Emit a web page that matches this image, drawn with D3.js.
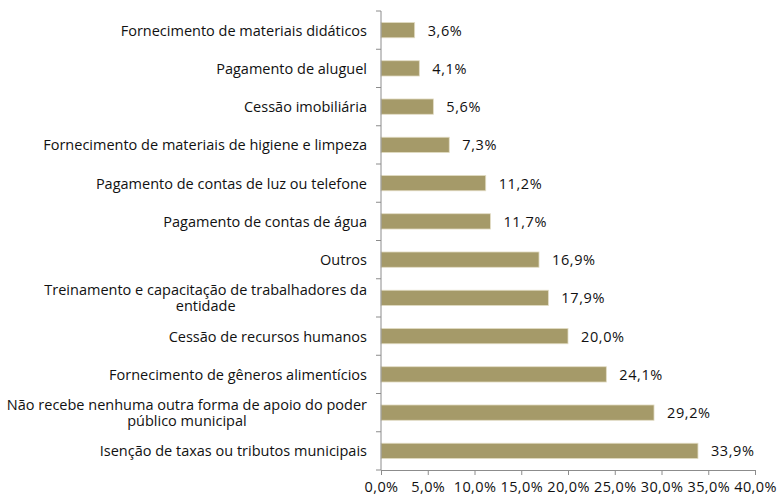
<!DOCTYPE html>
<html>
<head>
<meta charset="utf-8">
<script src="https://cdn.jsdelivr.net/npm/d3@7"></script>
<style>
  html, body { margin: 0; padding: 0; background: #fff; }
  svg text { font-family: "Open Sans", "Noto Sans", sans-serif; fill: #111; }
</style>
</head>
<body>
<svg id="chart" width="778" height="495"></svg>
<script>
// Forms of municipal support, share of entities (%)
const categories = [
  "Fornecimento de materiais didáticos",
  "Pagamento de aluguel",
  "Cessão imobiliária",
  "Fornecimento de materiais de higiene e limpeza",
  "Pagamento de contas de luz ou telefone",
  "Pagamento de contas de água",
  "Outros",
  "Treinamento e capacitação de trabalhadores da|entidade",
  "Cessão de recursos humanos",
  "Fornecimento de gêneros alimentícios",
  "Não recebe nenhuma outra forma de apoio do poder|público municipal",
  "Isenção de taxas ou tributos municipais"
];
const values = [3.6, 4.1, 5.6, 7.3, 11.2, 11.7, 16.9, 17.9, 20.0, 24.1, 29.2, 33.9];
const tickValues = [0, 5, 10, 15, 20, 25, 30, 35, 40];

const fmt = v => v.toFixed(1).replace(".", ",") + "%";

const svg = d3.select("#chart");
const plotLeft = 381, plotRight = 755, plotTop = 11, plotBottom = 470;
const fontSize = 14.5;

const x = d3.scaleLinear().domain([0, 40]).range([plotLeft, plotRight]);
const y = d3.scaleBand().domain(categories).range([plotTop, plotBottom]).paddingInner(0.6).paddingOuter(0.3);
const yGrid = d3.scaleBand().domain(categories).range([plotTop, plotBottom]);

const axisColor = "#8c8c8c";

// Bars
svg.append("g").selectAll("rect")
  .data(values)
  .join("rect")
  .attr("x", x(0))
  .attr("y", (d, i) => y(categories[i]))
  .attr("width", d => x(d) - x(0))
  .attr("height", y.bandwidth())
  .attr("fill", "#a59a69")
  .attr("stroke", "#e2dcc4")
  .attr("stroke-width", 0.8);

// Value labels
svg.append("g").selectAll("text")
  .data(values)
  .join("text")
  .attr("x", d => x(d) + 13)
  .attr("y", (d, i) => y(categories[i]) + y.bandwidth() / 2 + 5.5)
  .attr("font-size", fontSize)
  .attr("letter-spacing", 0.6)
  .text(d => fmt(d));

// Vertical axis line with ticks at category boundaries
const yAxisG = svg.append("g");
yAxisG.append("line")
  .attr("x1", plotLeft).attr("x2", plotLeft)
  .attr("y1", plotTop).attr("y2", plotBottom)
  .attr("stroke", axisColor);
const bounds = categories.map(c => yGrid(c)).concat([plotBottom]);
yAxisG.selectAll("line.tick")
  .data(bounds)
  .join("line")
  .attr("class", "tick")
  .attr("x1", plotLeft - 5).attr("x2", plotLeft)
  .attr("y1", d => d).attr("y2", d => d)
  .attr("stroke", axisColor);

// Category labels (wrapped where marked)
const labels = svg.append("g").selectAll("text")
  .data(categories)
  .join("text")
  .attr("text-anchor", "end")
  .attr("font-size", fontSize)
  .attr("y", d => y(d) + y.bandwidth() / 2 + 5.5);
labels.each(function(d) {
  const parts = d.split("|");
  const t = d3.select(this);
  if (parts.length === 1) {
    t.append("tspan").attr("x", 367).text(parts[0]);
  } else {
    // first line right-aligned, second line centred under it
    const tmp = t.append("tspan").attr("x", 367).attr("dy", -8).text(parts[0]);
    const w = tmp.node().getComputedTextLength();
    t.append("tspan").attr("x", 367 - w / 2).attr("dy", 16).attr("text-anchor", "middle").text(parts[1]);
  }
});

// Bottom axis
const xAxis = d3.axisBottom(x).tickValues(tickValues).tickSize(5).tickFormat(d => fmt(d));
const gx = svg.append("g").attr("transform", `translate(0,${plotBottom})`).call(xAxis);
gx.select(".domain").attr("stroke", axisColor);
gx.selectAll(".tick line").attr("stroke", axisColor);
gx.selectAll(".tick text")
  .attr("font-size", fontSize)
  .attr("letter-spacing", 0.4)
  .attr("dy", 0)
  .attr("y", 22)
  .style("font-family", "'Open Sans', 'Noto Sans', sans-serif")
  .attr("fill", "#111");
</script>
</body>
</html>
